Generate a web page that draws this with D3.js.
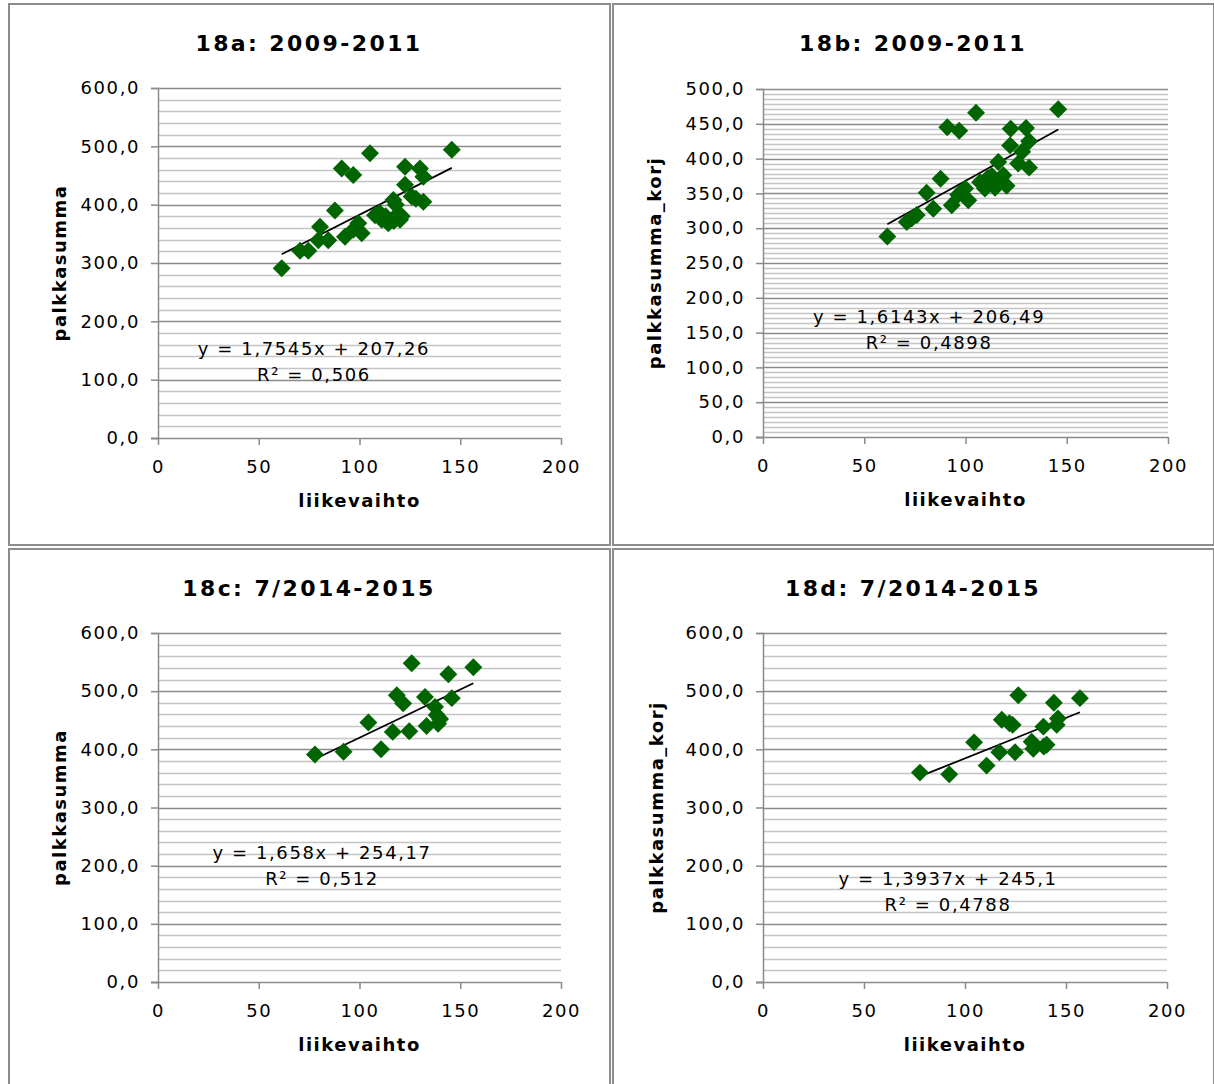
<!DOCTYPE html>
<html>
<head>
<meta charset="utf-8">
<script src="https://cdn.jsdelivr.net/npm/d3@7"></script>
<style>
	body { margin: 0; background: #fff; }
	text { font-family: "DejaVu Sans", Verdana, sans-serif; fill: #000; }
</style>
</head>
<body>
<svg id="chart" width="1214" height="1084"></svg>
<script>
// chart data
var titles = ["18a: 2009-2011", "18b: 2009-2011", "18c: 7/2014-2015", "18d: 7/2014-2015"]
var yTitles = ["palkkasumma", "palkkasumma_korj", "palkkasumma", "palkkasumma_korj"]
var xTitle = "liikevaihto"
var equations = ["y = 1,7545x + 207,26", "y = 1,6143x + 206,49", "y = 1,658x + 254,17", "y = 1,3937x + 245,1"]
var rSquared = ["R² = 0,506", "R² = 0,4898", "R² = 0,512", "R² = 0,4788"]
var slopes = [1.7545, 1.6143, 1.658, 1.3937]
var intercepts = [207.26, 206.49, 254.17, 245.1]
var xTicks = [0, 50, 100, 150, 200]
var yTicks600 = [0, 100, 200, 300, 400, 500, 600]
var yTicks500 = [0, 50, 100, 150, 200, 250, 300, 350, 400, 450, 500]

var xA = [61.4, 70.5, 74.6, 80.4, 79.6, 84.5, 87.8, 92.8, 91.2, 96.9, 105.2, 96.9, 101.1, 99.4, 107.7, 111, 114.3, 116.8, 119.3, 120.1, 122.6, 122.6, 125.9, 130, 131.7, 131.7, 145.8, 113, 117, 110, 121, 128, 118]
var yA = [291, 321, 321, 362, 339, 339, 390, 345, 462, 451, 488, 357, 351, 368, 382, 374, 368, 408, 385, 374, 434, 465, 414, 462, 448, 405, 494, 380, 372, 386, 380, 410, 400]

var xB = [61.4, 71, 73.4, 75.9, 80.8, 84.1, 87.7, 93.2, 91, 96.9, 105.2, 96.4, 101.4, 99.8, 107.2, 109.6, 114.6, 116.2, 118.7, 120.3, 122, 122.3, 126, 129.9, 131.4, 131.4, 145.8, 113, 117, 111, 128]
var yB = [288, 309, 314, 319, 351, 328, 371, 333, 445, 440, 466, 348, 340, 357, 366, 357, 358, 395, 376, 361, 419, 443, 393, 444, 425, 387, 471, 375, 368, 372, 410]

var xC = [77.9, 92.1, 110.7, 104.4, 116.5, 124.7, 118.5, 121.7, 125.9, 132.5, 133.3, 137.5, 140, 139, 144.1, 145.8, 156.5, 138.3]
var yC = [391, 396, 400, 446, 430, 431, 493, 479, 548, 490, 440, 473, 452, 444, 529, 488, 541, 459]

var xD = [77.7, 92.2, 104.5, 110.7, 117, 118.2, 123.6, 124.8, 126.4, 133, 133.8, 138.8, 140.4, 139, 144, 145.4, 146, 156.9, 122]
var yD = [360, 357, 412, 372, 395, 451, 442, 395, 493, 413, 401, 439, 408, 405, 480, 442, 453, 488, 445]

// equation label anchors, in data units
var eqX = [77.4, 82, 81.4, 91.6]
var eqY = [142, 164, 211, 167]

var svg = d3.select("#chart")
svg.append("rect").attr("width", 1214).attr("height", 1084).attr("fill", "#fff")

var panels = [
	{ fx: 9, fy: 4, left: 158, top: 88, w: 403, h: 350, ymax: 600, ticks: yTicks600, minor: 5, xs: xA, ys: yA, ytx: 60 },
	{ fx: 613, fy: 4, left: 763, top: 89, w: 405, h: 348, ymax: 500, ticks: yTicks500, minor: 7, xs: xB, ys: yB, ytx: 655 },
	{ fx: 9, fy: 549, left: 158, top: 633, w: 403, h: 349, ymax: 600, ticks: yTicks600, minor: 5, xs: xC, ys: yC, ytx: 60 },
	{ fx: 613, fy: 549, left: 763, top: 633, w: 404, h: 349, ymax: 600, ticks: yTicks600, minor: 5, xs: xD, ys: yD, ytx: 657 }
]

var diamond = d3.symbol().type(d3.symbolDiamond2).size(205)

panels.forEach(function (p, k) {

	// frame
	svg.append("rect")
		.attr("x", p.fx).attr("y", p.fy)
		.attr("width", 601).attr("height", 541)
		.attr("fill", "none")
		.attr("stroke", "#8c8c8c")
		.attr("stroke-width", 2)

	var x = d3.scaleLinear().domain([0, 200]).range([p.left, p.left + p.w])
	var y = d3.scaleLinear().domain([0, p.ymax]).range([p.top + p.h, p.top])

	var g = svg.append("g")

	// minor gridlines
	var step = p.ticks[1] - p.ticks[0]
	var minorVals = []
	for (var i = 0; i < p.ticks.length - 1; i++) {
		for (var j = 1; j < p.minor; j++) minorVals.push(p.ticks[i] + step * j / p.minor)
	}
	g.selectAll(".minor")
		.data(minorVals)
		.enter().append("line")
		.attr("x1", p.left).attr("x2", p.left + p.w)
		.attr("y1", d => Math.round(y(d)) + 0.5).attr("y2", d => Math.round(y(d)) + 0.5)
		.attr("stroke", "#c4c4c4")
		.attr("stroke-width", 1.3)

	// major gridlines
	g.selectAll(".major")
		.data(p.ticks.slice(1))
		.enter().append("line")
		.attr("x1", p.left).attr("x2", p.left + p.w)
		.attr("y1", d => Math.round(y(d)) + 0.5).attr("y2", d => Math.round(y(d)) + 0.5)
		.attr("stroke", "#8a8a8a")
		.attr("stroke-width", 1.3)

	// y axis
	var yAxis = g.append("g")
		.attr("transform", "translate(" + p.left + ",0)")
		.call(d3.axisLeft(y).tickValues(p.ticks).tickSize(7).tickPadding(11)
			.tickFormat(d => d3.format(".1f")(d).replace(".", ",")))
	// x axis
	var xAxis = g.append("g")
		.attr("transform", "translate(0," + (p.top + p.h) + ")")
		.call(d3.axisBottom(x).tickValues(xTicks).tickSize(7).tickPadding(15))

	;[yAxis, xAxis].forEach(function (ax) {
		ax.select(".domain").attr("stroke", "#8a8a8a").attr("stroke-width", 1.5)
		ax.selectAll(".tick line").attr("stroke", "#8a8a8a").attr("stroke-width", 1.5)
		ax.selectAll(".tick text")
			.attr("font-family", "DejaVu Sans")
			.attr("font-size", 18)
			.style("letter-spacing", "1.6px")
			.attr("fill", "#000")
	})
	xAxis.select(".domain").attr("d", "M" + (p.left - 7) + ",0.5H" + (p.left + p.w))

	// trend line
	var xmin = d3.min(p.xs), xmax = d3.max(p.xs)
	g.append("line")
		.attr("x1", x(xmin)).attr("y1", y(slopes[k] * xmin + intercepts[k]))
		.attr("x2", x(xmax)).attr("y2", y(slopes[k] * xmax + intercepts[k]))
		.attr("stroke", "#000")
		.attr("stroke-width", 1.8)

	// points
	g.selectAll(".pt")
		.data(p.xs)
		.enter().append("path")
		.attr("d", diamond)
		.attr("transform", (d, i) => "translate(" + x(d) + "," + y(p.ys[i]) + ")")
		.attr("fill", "#006400")

	// equation
	g.append("text")
		.attr("x", x(eqX[k])).attr("y", y(eqY[k]))
		.attr("text-anchor", "middle")
		.attr("font-size", 18)
		.style("letter-spacing", "1.6px")
		.text(equations[k])
	g.append("text")
		.attr("x", x(eqX[k])).attr("y", y(eqY[k]) + 26)
		.attr("text-anchor", "middle")
		.attr("font-size", 18)
		.style("letter-spacing", "1.6px")
		.text(rSquared[k])

	// titles
	g.append("text")
		.attr("x", p.fx + 300).attr("y", p.fy + 47)
		.attr("text-anchor", "middle")
		.attr("font-size", 22)
		.attr("font-weight", "bold")
		.style("letter-spacing", "2.4px")
		.text(titles[k])

	g.append("text")
		.attr("x", x(100)).attr("y", p.top + p.h + 69)
		.attr("text-anchor", "middle")
		.attr("font-size", 18)
		.attr("font-weight", "bold")
		.style("letter-spacing", "1.5px")
		.text(xTitle)

	g.append("text")
		.attr("transform", "translate(" + (p.ytx + 6) + "," + (p.top + p.h / 2) + ") rotate(-90)")
		.attr("text-anchor", "middle")
		.attr("font-size", 18)
		.attr("font-weight", "bold")
		.style("letter-spacing", "1.5px")
		.text(yTitles[k])
})
</script>
</body>
</html>
